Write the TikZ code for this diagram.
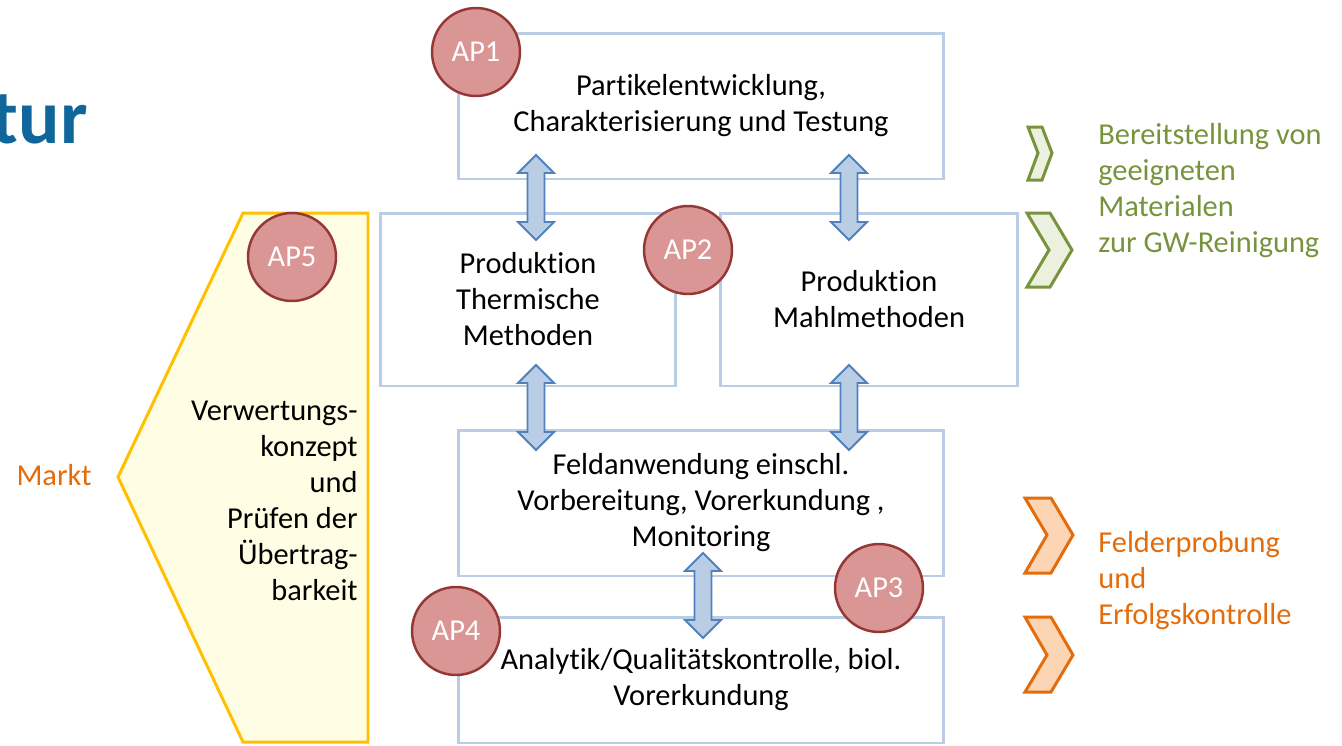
\documentclass[tikz,border=0pt]{standalone}
\usepackage{fontspec}
\setmainfont[Ligatures=NoCommon]{Carlito}
\usepackage{xcolor}
\usepackage{tikz}
\usetikzlibrary{positioning}
\usetikzlibrary{calc}
\definecolor{boxblue}{HTML}{B9CDE5}
\definecolor{arrowblue}{HTML}{4F81BD}
\definecolor{apfill}{HTML}{D99694}
\definecolor{apline}{HTML}{953735}
\definecolor{gold}{HTML}{FFC000}
\definecolor{paleyellow}{HTML}{FFFDE3}
\definecolor{olive}{HTML}{77933C}
\definecolor{palegreen}{HTML}{EBF1DE}
\definecolor{orng}{HTML}{E46C0A}
\definecolor{paleorange}{HTML}{FCD5B5}
\definecolor{titleblue}{HTML}{10669A}
\tikzstyle{box} = [draw=boxblue, line width=1.7pt, fill=white, align=center,
inner sep=0pt]
\tikzstyle{ap} = [circle, draw=apline, fill=apfill, line width=1.4pt,
minimum size=1.76cm, inner sep=0pt, text=white]
\tikzstyle{fat} = [draw=arrowblue, fill=boxblue, line width=1.1pt]
\newcommand{\fatarrow}[2]{%
\path [fat] (#1) -- ($(#1)+(18,18)$) -- ($(#1)+(8.5,18)$)
 -- ($(#2)+(8.5,-18)$) -- ($(#2)+(18,-18)$) -- (#2)
 -- ($(#2)+(-18,-18)$) -- ($(#2)+(-8.5,-18)$)
 -- ($(#1)+(-8.5,18)$) -- ($(#1)+(-18,18)$) -- cycle;}

\begin{document}
\begin{tikzpicture}[x=0.02cm, y=-0.02cm,
font=\fontsize{17.3}{20.5}\selectfont,
chevgreen/.style={draw=olive, fill=palegreen, line width=1.7pt},
chevorange/.style={draw=orng, fill=paleorange, line width=1.7pt}]
\useasboundingbox (0,0) rectangle (1342,745);
%% Title rest
\node [anchor=base east, text=titleblue, inner sep=0pt,
font=\fontsize{44}{50}\selectfont\bfseries] (title) at (88,143) {tur};
%% Verwertung
\path [draw=gold, fill=paleyellow, line width=1.7pt]
(243,213) -- (368,213) -- (368,742) -- (243,742) -- (118,477) -- cycle;
\node [anchor=east, align=right, inner sep=0pt] (verw) at (358,501)
{Verwertungs-\\konzept\\und\\Pr\"ufen der\\\"Ubertrag-\\barkeit};
\node [text=orng, inner sep=0pt] (markt) at (54,475) {Markt};
%% Boxes
\node [box, minimum width=9.72cm, minimum height=2.92cm] (b1) at (701,106)
{Partikelentwicklung,\\Charakterisierung und Testung};
\node [box, minimum width=5.92cm, minimum height=3.46cm] (b2) at (528,299.5)
{Produktion\\Thermische\\Methoden};
\node [box, minimum width=5.96cm, minimum height=3.46cm] (b3) at (869,299.5)
{Produktion\\Mahlmethoden};
\node [box, minimum width=9.72cm, minimum height=2.92cm] (b4) at (701,503)
{Feldanwendung einschl.\\Vorbereitung, Vorerkundung ,\\Monitoring};
\node [box, minimum width=9.72cm, minimum height=2.52cm] (b5) at (701,680)
{Analytik/Qualit\"atskontrolle, biol.\\Vorerkundung};
%% Arrows
\coordinate (a1t) at (536,155); \coordinate (a1b) at (536,240);
\coordinate (a2t) at (849,155); \coordinate (a2b) at (849,240);
\coordinate (a3t) at (536,365); \coordinate (a3b) at (536,450);
\coordinate (a4t) at (849,365); \coordinate (a4b) at (849,450);
\coordinate (a5t) at (703,553); \coordinate (a5b) at (703,638);
\fatarrow{a1t}{a1b}
\fatarrow{a2t}{a2b}
\fatarrow{a3t}{a3b}
\fatarrow{a4t}{a4b}
\fatarrow{a5t}{a5b}
%% Work packages
\node [ap] (ap1) at (476,52) {AP1};
\node [ap] (ap2) at (688,250) {AP2};
\node [ap] (ap3) at (879,588) {AP3};
\node [ap] (ap4) at (456,631) {AP4};
\node [ap] (ap5) at (292,257) {AP5};
%% Results
\path [chevgreen] (1028,127) -- (1042,127) -- (1052,153) -- (1042,180)
-- (1028,180) -- (1038,153) -- cycle;
\path [chevgreen] (1027,213) -- (1050,213) -- (1072,250) -- (1050,287)
-- (1027,287) -- (1049,250) -- cycle;
\path [chevorange] (1025,498) -- (1051,498) -- (1073,535) -- (1051,573)
-- (1025,573) -- (1047,535) -- cycle;
\path [chevorange] (1025,617) -- (1051,617) -- (1073,655) -- (1051,692)
-- (1025,692) -- (1047,655) -- cycle;
\node [anchor=west, align=left, text=olive, inner sep=0pt] (res1) at (1098,191)
{Bereitstellung von\\geeigneten\\Materialen\\zur GW-Reinigung};
\node [anchor=west, align=left, text=orng, inner sep=0pt] (res2) at (1098,581)
{Felderprobung\\und\\Erfolgskontrolle};
\end{tikzpicture}
\end{document}
